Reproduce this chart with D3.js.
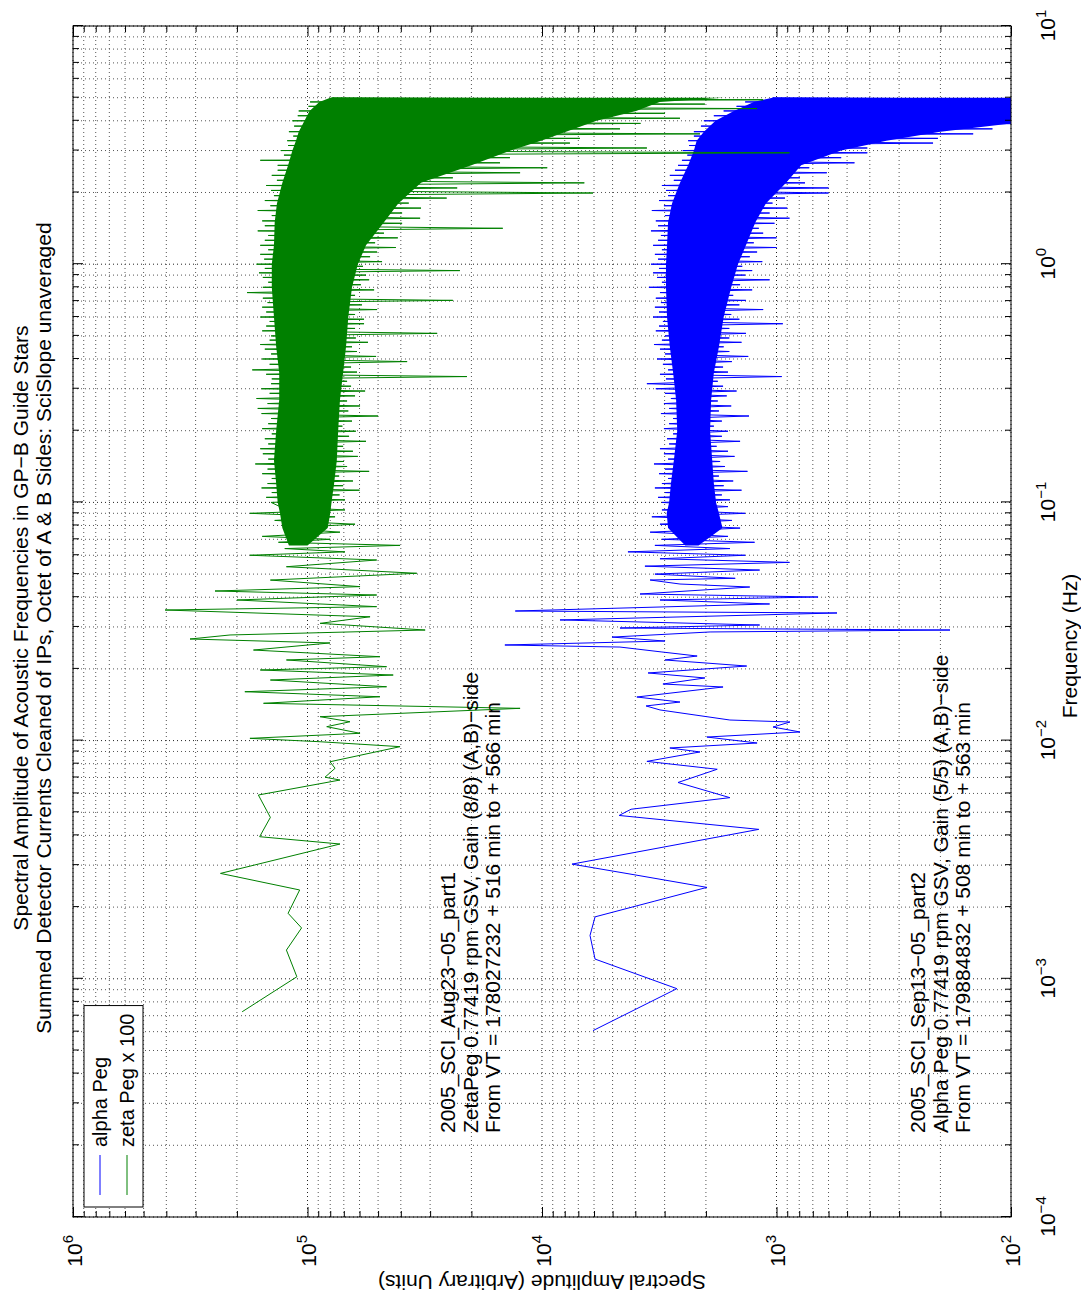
<!DOCTYPE html>
<html>
<head>
<meta charset="utf-8">
<script src="https://cdn.jsdelivr.net/npm/d3@7"></script>
<style>
body { margin: 0; background: #fff; overflow: hidden; }
svg { display: block; background: #fff; }
text { font-family: "Liberation Sans", Arial, Helvetica, sans-serif; fill: #000; }
.grid line { stroke: #555; stroke-width: 1; stroke-dasharray: 1,3; }
.grid line.major { stroke: #222; }
</style>
</head>
<body>
<svg id="chart" width="1081" height="1295"></svg>
<script>
// ---- data (frequency in Hz, amplitude in arbitrary units) ----

// alpha Peg, sparse low-frequency part (below 0.1 Hz)
const alphaLowFreq = [6.06e-4, 9.09e-4, 1.21e-3, 1.52e-3, 1.82e-3, 2.12e-3, 2.42e-3, 2.73e-3, 3.03e-3, 4.24e-3,
  4.85e-3, 5.15e-3, 5.76e-3, 6.67e-3, 7.58e-3, 8.18e-3, 8.96e-3, 9.31e-3, 9.77e-3, 1.035e-2,
  1.087e-2, 1.14e-2, 1.197e-2, 1.22e-2, 1.345e-2, 1.398e-2, 1.452e-2, 1.524e-2, 1.679e-2, 1.728e-2,
  1.832e-2, 1.923e-2, 2.056e-2, 2.18e-2, 2.265e-2, 2.355e-2, 2.47e-2, 2.52e-2, 2.618e-2, 2.72e-2,
  2.858e-2, 2.912e-2, 2.969e-2, 3.057e-2, 3.21e-2, 3.434e-2, 3.5e-2, 3.746e-2, 3.893e-2, 4.007e-2,
  4.125e-2, 4.413e-2, 4.543e-2, 4.723e-2,
  0.048, 0.050, 0.052, 0.054, 0.056, 0.058, 0.060, 0.062, 0.064, 0.066, 0.068, 0.070, 0.072, 0.075,
  0.078, 0.081, 0.084, 0.087, 0.090, 0.093, 0.096];
const alphaLowAmp = [6060, 2660, 5940, 6240, 5940, 3300, 1980, 4010, 7450, 1190,
  4690, 4170, 1580, 2630, 1790, 3570, 2120, 2850, 1210, 1980,
  794, 1035, 876, 1580, 3140, 3600, 2580, 3940, 1690, 3050,
  2020, 3530, 1340, 2990, 2180, 3080, 4650, 14400, 2990, 5030,
  1920, 182, 4650, 1180, 8380, 552, 13000, 1070, 3140, 665,
  3820, 1300, 2580, 3460,
  1500, 3300, 1180, 3640, 880, 3140, 1360, 4300, 1580, 3300, 1240, 3080, 1610, 3460,
  1430, 3140, 1550, 3400, 1360, 3080, 1610];

// zeta Peg x 100, sparse low-frequency part
const zetaLowFreq = [7.27e-4, 1.02e-3, 1.32e-3, 1.635e-3, 1.884e-3, 2.36e-3, 2.77e-3, 3.68e-3, 3.95e-3, 4.76e-3,
  5.91e-3, 6.83e-3, 7.02e-3, 7.65e-3, 8.15e-3, 9.43e-3, 9.89e-3, 1.022e-2, 1.073e-2, 1.144e-2,
  1.2e-2, 1.26e-2, 1.366e-2, 1.434e-2, 1.528e-2, 1.604e-2, 1.683e-2, 1.796e-2, 1.885e-2, 1.979e-2,
  2.043e-2, 2.18e-2, 2.25e-2, 2.40e-2, 2.57e-2, 2.67e-2, 2.776e-2, 2.912e-2, 3.106e-2, 3.31e-2,
  3.534e-2, 3.65e-2, 3.893e-2, 4.085e-2, 4.246e-2, 4.43e-2, 4.72e-2, 5.04e-2, 5.37e-2, 5.73e-2,
  0.060, 0.062, 0.064, 0.066, 0.068, 0.070, 0.072, 0.075, 0.078, 0.081, 0.084, 0.087, 0.090, 0.093, 0.096];
const zetaLowAmp = [1.90e5, 1.11e5, 1.23e5, 1.06e5, 1.21e5, 1.08e5, 2.35e5, 7.27e4, 1.6e5, 1.44e5,
  1.62e5, 7.27e4, 8.42e4, 7.63e4, 8.02e4, 4.03e4, 8.84e4, 1.76e5, 5.97e4, 8.28e4,
  6.59e4, 8.84e4, 1.24e4, 1.54e5, 4.91e4, 1.85e5, 4.6e4, 1.44e5, 4.31e4, 1.59e5,
  4.6e4, 1.23e5, 4.91e4, 1.70e5, 8.02e4, 3.17e5, 2.14e5, 3.15e4, 8.84e4, 5.41e4,
  4.05e5, 5.07e4, 2.0e5, 5.07e4, 2.48e5, 5.97e4, 1.44e5, 3.42e4, 1.23e5, 5.07e4,
  1.76e5, 6.92e4, 1.25e5, 4.03e4, 1.33e5, 8.0e4, 1.56e5, 7.27e4, 1.27e5, 6.27e4, 1.38e5, 7.63e4, 1.76e5, 6.92e4, 1.31e5];

// dense part of both spectra (0.1 - 5 Hz): peaks and dips read along the ragged band edges
const bandFreq = [0.100, 0.1025, 0.105, 0.1075, 0.110, 0.1125, 0.115, 0.1175, 0.120, 0.123,
  0.126, 0.129, 0.132, 0.135, 0.138, 0.1415, 0.145, 0.1485, 0.152, 0.156,
  0.160, 0.164, 0.168, 0.172, 0.176, 0.1805, 0.185, 0.1895, 0.194, 0.199,
  0.204, 0.209, 0.214, 0.2195, 0.225, 0.2305, 0.236, 0.242, 0.248, 0.254,
  0.260, 0.2665, 0.273, 0.280, 0.287, 0.2935, 0.300, 0.3075, 0.315, 0.3225,
  0.330, 0.3375, 0.345, 0.3525, 0.360, 0.370, 0.380, 0.390, 0.400, 0.410,
  0.420, 0.430, 0.440, 0.450, 0.460, 0.470, 0.480, 0.490, 0.500, 0.5125,
  0.525, 0.5375, 0.550, 0.5625, 0.575, 0.5875, 0.600, 0.615, 0.630, 0.645,
  0.660, 0.675, 0.690, 0.705, 0.720, 0.740, 0.760, 0.780, 0.800, 0.820,
  0.840, 0.860, 0.880, 0.900, 0.920, 0.940, 0.960, 0.980, 1.00, 1.025,
  1.05, 1.075, 1.10, 1.125, 1.15, 1.175, 1.20, 1.23, 1.26, 1.29,
  1.32, 1.35, 1.38, 1.415, 1.45, 1.485, 1.52, 1.56, 1.60, 1.64,
  1.68, 1.72, 1.76, 1.805, 1.85, 1.895, 1.94, 1.99, 2.04, 2.09,
  2.14, 2.195, 2.25, 2.305, 2.36, 2.42, 2.48, 2.54, 2.60, 2.665,
  2.73, 2.80, 2.87, 2.935, 3.00, 3.075, 3.15, 3.225, 3.30, 3.375,
  3.45, 3.525, 3.60, 3.70, 3.80, 3.90, 4.00, 4.10, 4.20, 4.30,
  4.40, 4.50, 4.60, 4.70, 4.80, 4.90, 5.00];
const alphaBandAmp = [3080, 1580, 3200, 1710, 2990, 1410, 3300, 1680, 3080, 1530,
  2900, 1760, 3170, 1330, 2990, 1660, 3330, 1740, 2900, 1510,
  3020, 1610, 3140, 1800, 2870, 1430, 2930, 1710, 2760, 1610,
  3020, 1850, 2870, 1710, 2760, 1310, 3110, 1760, 2870, 1560,
  3020, 1780, 2820, 1630, 2990, 1480, 3270, 1690, 3570, 1780,
  2960, 950, 3140, 1610, 2900, 1690, 3050, 1550, 3230, 1320,
  2990, 1590, 3140, 1680, 3330, 1410, 3080, 1590, 2990, 1350,
  3270, 1590, 3170, 940, 3050, 1440, 3360, 1560, 3170, 1140,
  3300, 1440, 3110, 1350, 3270, 1530, 3140, 1270, 3500, 1430,
  3080, 1070, 3230, 1360, 3360, 1270, 3170, 1400, 3430, 1150,
  3200, 1300, 3300, 1210, 3080, 1000, 3360, 1250, 3200, 1000,
  3110, 1140, 3430, 1190, 3200, 1020, 3270, 880, 2990, 1070,
  3400, 900, 3020, 1040, 3170, 920, 2900, 600, 2960, 600,
  3080, 756, 2740, 794, 2850, 610, 2710, 725, 2630, 465,
  2530, 530, 2400, 410, 2510, 410, 2360, 215, 2380, 205,
  2250, 145, 2250, 120, 2100, 70, 2040, 60, 1850, 55,
  1680, 50, 1480, 45, 1360, 40, 1040];
const zetaBandAmp = [1.43e5, 6.92e4, 1.5e5, 7.3e4, 1.42e5, 6.0e4, 1.57e5, 7.05e4, 1.48e5, 6.4e4,
  1.42e5, 7.33e4, 1.56e5, 5.46e4, 1.48e5, 6.78e4, 1.67e5, 6.99e4, 1.47e5, 6.1e4,
  1.55e5, 6.4e4, 1.59e5, 7.05e4, 1.47e5, 5.63e4, 1.52e5, 6.65e4, 1.42e5, 6.22e4,
  1.56e5, 7.1e4, 1.47e5, 6.46e4, 1.43e5, 5.0e4, 1.57e5, 6.7e4, 1.63e5, 5.97e4,
  1.48e5, 6.78e4, 1.65e5, 6.27e4, 1.45e5, 5.68e4, 1.57e5, 6.52e4, 1.43e5, 6.78e4,
  1.42e5, 2.09e4, 1.5e5, 6.15e4, 1.72e5, 6.52e4, 1.45e5, 3.76e4, 1.56e5, 5.1e4,
  1.43e5, 6.15e4, 1.52e5, 6.46e4, 1.59e5, 5.52e4, 1.45e5, 6.22e4, 1.43e5, 2.8e4,
  1.56e5, 6.27e4, 1.5e5, 5.74e4, 1.45e5, 5.74e4, 1.59e5, 6.27e4, 1.5e5, 5.05e4,
  1.56e5, 5.86e4, 1.48e5, 2.4e4, 1.55e5, 6.27e4, 1.81e5, 5.2e4, 1.55e5, 5.92e4,
  1.47e5, 5.46e4, 1.55e5, 5.63e4, 1.61e5, 2.24e4, 1.52e5, 5.8e4, 1.65e5, 4.81e4,
  1.53e5, 5.41e4, 1.59e5, 5.05e4, 1.47e5, 4.2e4, 1.59e5, 5.15e4, 1.52e5, 4.12e4,
  1.47e5, 4.72e4, 1.63e5, 1.47e4, 1.52e5, 3.95e4, 1.56e5, 3.31e4, 1.42e5, 3.95e4,
  1.63e5, 3.28e4, 1.44e5, 3.7e4, 1.52e5, 2.55e4, 1.39e5, 6060, 1.43e5, 2.3e4,
  1.5e5, 6600, 1.35e5, 2.4e4, 1.42e5, 1.24e4, 1.34e5, 9500, 1.34e5, 1.51e4,
  1.59e5, 1.37e4, 1.26e5, 880, 1.3e5, 3570, 1.21e5, 7600, 1.22e5, 6890,
  1.15e5, 2120, 1.2e5, 4650, 1.14e5, 3800, 1.16e5, 2580, 1.1e5, 2990,
  1.09e5, 1210, 9.9e4, 2020, 9.75e4, 1140, 7.9e4];

// inner edge of the solid core of each band
const coreFreq = [0.066, 0.078, 0.09, 0.1, 0.12, 0.15, 0.2, 0.27, 0.35, 0.45, 0.6, 0.8, 1.0,
  1.2, 1.5, 1.8, 2.2, 2.6, 3.0, 3.3, 3.6, 4.0, 4.4, 4.8, 5.0];
const alphaCoreHigh = [2450, 2900, 2940, 2870, 2820, 2740, 2650, 2680, 2760, 2850, 2930, 2960, 2960,
  2930, 2900, 2790, 2580, 2380, 2250, 2190, 2040, 1820, 1520, 1250, 1040];
const alphaCoreLow = [2150, 1700, 1760, 1810, 1850, 1880, 1920, 1900, 1850, 1760, 1680, 1560, 1460,
  1350, 1230, 1110, 910, 785, 530, 340, 200, 80, 60, 45, 40];
const zetaCoreHigh = [1.2e5, 1.28e5, 1.31e5, 1.34e5, 1.36e5, 1.39e5, 1.36e5, 1.32e5, 1.32e5, 1.36e5, 1.39e5, 1.42e5, 1.42e5,
  1.39e5, 1.38e5, 1.35e5, 1.28e5, 1.21e5, 1.16e5, 1.12e5, 1.09e5, 1.03e5, 9.8e4, 8.9e4, 8.0e4];
const zetaCoreLow = [1.0e5, 8.2e4, 8.0e4, 7.9e4, 7.7e4, 7.5e4, 7.4e4, 7.27e4, 7.05e4, 6.85e4, 6.7e4, 6.46e4, 6.1e4,
  5.63e4, 4.72e4, 4.1e4, 3.28e4, 2.0e4, 1.36e4, 1.01e4, 7900, 5850, 3970, 3150, 1690];

// axes
const freqTicks = [1e-4, 1e-3, 1e-2, 1e-1, 1, 10];
const freqTickExp = ["\u22124", "\u22123", "\u22122", "\u22121", "0", "1"];
const ampTicks = [1e2, 1e3, 1e4, 1e5, 1e6];
const ampTickExp = ["2", "3", "4", "5", "6"];

// text
const titleLines = [
  "Spectral Amplitude of Acoustic Frequencies in GP\u2212B Guide Stars",
  "Summed Detector Currents Cleaned of IPs, Octet of A & B Sides: SciSlope unaveraged"
];
const zetaNote = ["2005_SCI_Aug23\u221205_part1",
  "ZetaPeg 0.77419 rpm GSV, Gain (8/8) (A,B)\u2212side",
  "From VT = 178027232 + 516 min to + 566 min"];
const alphaNote = ["2005_SCI_Sep13\u221205_part2",
  "Alpha Peg 0.77419 rpm GSV, Gain (5/5) (A,B)\u2212side",
  "From VT = 179884832 + 508 min to + 563 min"];
const legendLabels = ["alpha Peg", "zeta Peg x 100"];

const alphaColor = "#0000ff";
const zetaColor = "#008000";

// ---- drawing ----
const W = 1081, H = 1295;
const svg = d3.select("#chart");

// the MATLAB figure was printed turned a quarter turn, so build it upright and rotate the lot
const fig = svg.append("g").attr("transform", `translate(0,${H}) rotate(-90)`);

const x = d3.scaleLog().domain([1e-4, 10]).range([78, 1269]);
const y = d3.scaleLog().domain([1e2, 1e6]).range([1011, 73]);
const [x0, x1] = x.range();
const [y1, y0] = y.range();

const isDecade = v => Math.abs(Math.log10(v) - Math.round(Math.log10(v))) < 1e-9;
const xMinor = x.ticks().filter(d => !isDecade(d));
const yMinor = y.ticks().filter(d => !isDecade(d));

// dotted grid, major and minor
const grid = fig.append("g").attr("class", "grid");
grid.selectAll("line.gx").data(x.ticks()).join("line")
    .attr("class", d => "gx" + (isDecade(d) ? " major" : ""))
    .attr("x1", d => x(d)).attr("x2", d => x(d))
    .attr("y1", y0).attr("y2", y1);
grid.selectAll("line.gy").data(y.ticks()).join("line")
    .attr("class", d => "gy" + (isDecade(d) ? " major" : ""))
    .attr("x1", x0).attr("x2", x1)
    .attr("y1", d => y(d)).attr("y2", d => y(d));

fig.append("clipPath").attr("id", "plotClip")
  .append("rect")
    .attr("x", x0).attr("y", y0)
    .attr("width", x1 - x0).attr("height", y1 - y0);

const plot = fig.append("g").attr("clip-path", "url(#plotClip)");
const core = d3.area().x(d => x(d.f)).y0(d => y(d.lo)).y1(d => y(d.hi));
const trace = d3.line().x(d => x(d.f)).y(d => y(d.a));

function drawSeries(lowFreq, lowAmp, bandAmp, coreHigh, coreLow, color) {
    const coreData = coreFreq.map((f, i) => ({ f: f, hi: coreHigh[i], lo: coreLow[i] }));
    plot.append("path")
        .datum(coreData)
        .attr("d", core)
        .attr("fill", color);

    const freq = lowFreq.concat(bandFreq);
    const amp = lowAmp.concat(bandAmp);
    plot.append("path")
        .datum(freq.map((f, i) => ({ f: f, a: amp[i] })))
        .attr("d", trace)
        .attr("fill", "none")
        .attr("stroke", color)
        .attr("stroke-width", 1);
}

drawSeries(alphaLowFreq, alphaLowAmp, alphaBandAmp, alphaCoreHigh, alphaCoreLow, alphaColor);
drawSeries(zetaLowFreq, zetaLowAmp, zetaBandAmp, zetaCoreHigh, zetaCoreLow, zetaColor);

// ticks on all four sides, pointing inwards
function tickAxis(axis, values, size, transform) {
    const g = fig.append("g").attr("transform", transform)
        .call(axis.tickValues(values).tickSize(-size).tickSizeOuter(0).tickFormat(""));
    g.select(".domain").remove();
    return g;
}
tickAxis(d3.axisBottom(x), xMinor, 6, `translate(0,${y1})`);
tickAxis(d3.axisTop(x), xMinor, 6, `translate(0,${y0})`);
tickAxis(d3.axisTop(x), freqTicks, 10, `translate(0,${y0})`);
tickAxis(d3.axisLeft(y), yMinor, 6, `translate(${x0},0)`);
tickAxis(d3.axisRight(y), yMinor, 6, `translate(${x1},0)`);
tickAxis(d3.axisRight(y), ampTicks, 10, `translate(${x1},0)`);

const xAxisG = fig.append("g").attr("transform", `translate(0,${y1})`)
    .call(d3.axisBottom(x).tickValues(freqTicks).tickSize(-10).tickSizeOuter(0)
        .tickPadding(29).tickFormat(() => "10"));
xAxisG.select(".domain").remove();
xAxisG.selectAll(".tick text").attr("font-size", 21)
  .append("tspan").attr("dy", -9).attr("font-size", 15).text((d, i) => freqTickExp[i]);

const yAxisG = fig.append("g").attr("transform", `translate(${x0},0)`)
    .call(d3.axisLeft(y).tickValues(ampTicks).tickSize(-10).tickSizeOuter(0)
        .tickPadding(18).tickFormat(() => "10"));
yAxisG.select(".domain").remove();
yAxisG.selectAll(".tick text").attr("font-size", 21).attr("dy", 8)
  .append("tspan").attr("dy", -9).attr("font-size", 15).text((d, i) => ampTickExp[i]);

fig.append("rect")
    .attr("x", x0).attr("y", y0)
    .attr("width", x1 - x0).attr("height", y1 - y0)
    .attr("fill", "none").attr("stroke", "#000").attr("stroke-width", 1);

// titles and axis labels
fig.append("g").selectAll("text").data(titleLines).join("text")
    .attr("x", 667).attr("y", (d, i) => 28 + i * 23)
    .attr("text-anchor", "middle").attr("font-size", 21)
    .text(d => d);

fig.append("text")
    .attr("x", 649).attr("y", 1077)
    .attr("text-anchor", "middle").attr("font-size", 21)
    .text("Frequency (Hz)");

fig.append("text")
    .attr("transform", `translate(20,${(y0 + y1) / 2}) rotate(-90)`)
    .attr("text-anchor", "middle").attr("font-size", 21)
    .text("Spectral Amplitude (Arbitrary Units)");

// run notes placed inside the axes
function note(lines, baseY) {
    fig.append("g").selectAll("text").data(lines).join("text")
        .attr("x", 162).attr("y", (d, i) => baseY + i * 22.5)
        .attr("font-size", 21)
        .text(d => d);
}
note(zetaNote, 455);
note(alphaNote, 925);

// legend
const legend = fig.append("g");
const legendBox = legend.append("rect")
    .attr("x", 88).attr("y", 84).attr("height", 59)
    .attr("fill", "#fff").attr("stroke", "#000");
const items = legend.selectAll("g.item")
    .data(legendLabels.map((label, i) => ({ label: label, color: i === 0 ? alphaColor : zetaColor })))
    .join("g").attr("class", "item")
    .attr("transform", (d, i) => `translate(0,${100 + i * 27})`);
items.append("line")
    .attr("x1", 100).attr("x2", 140)
    .attr("stroke", d => d.color).attr("stroke-width", 1);
items.append("text")
    .attr("x", 148).attr("dy", "0.35em").attr("font-size", 20)
    .text(d => d.label);
let widest = 0;
items.selectAll("text").each(function() { widest = Math.max(widest, this.getComputedTextLength()); });
legendBox.attr("width", 148 - 88 + widest + 8);
</script>
</body>
</html>
